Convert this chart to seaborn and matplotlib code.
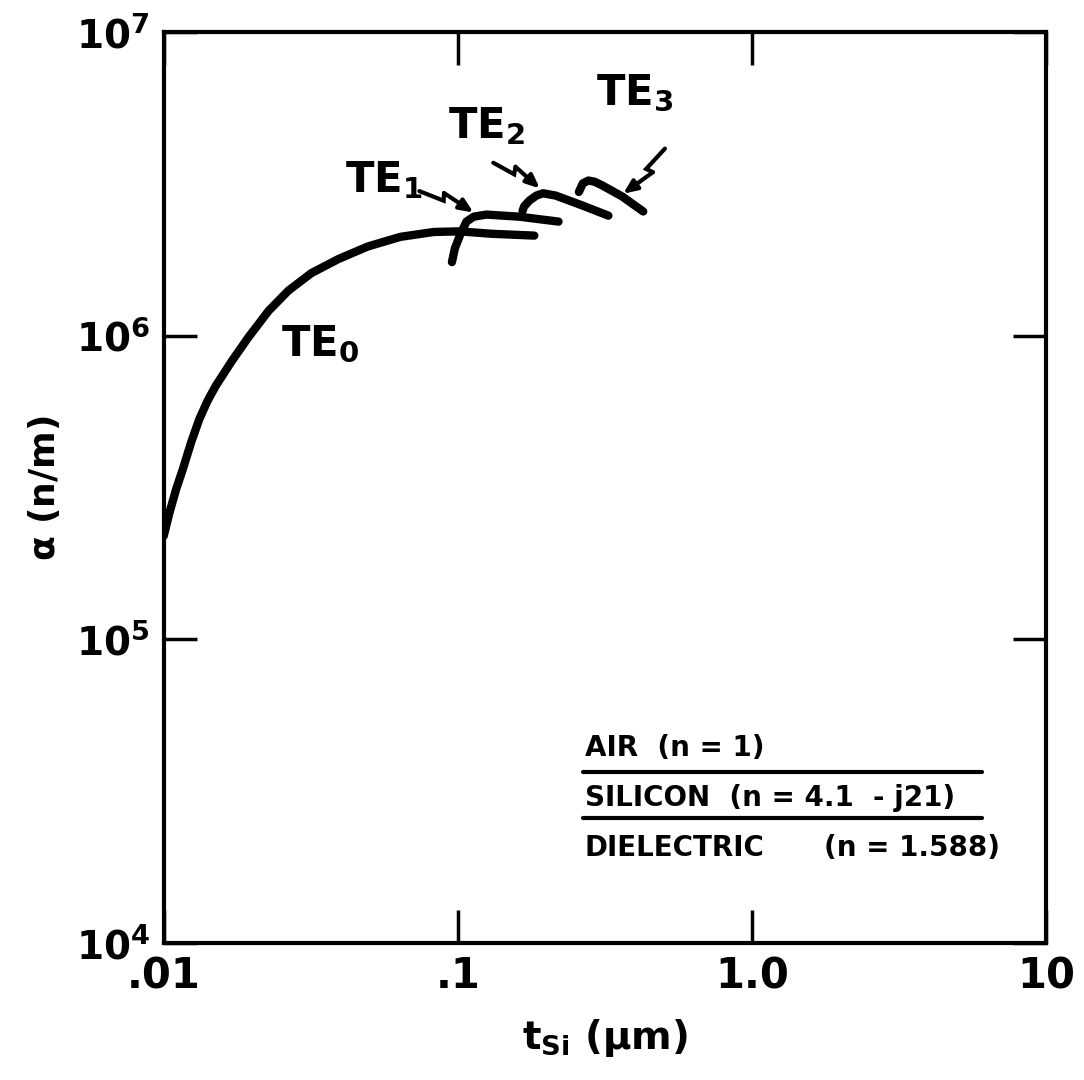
import matplotlib
matplotlib.use("Agg")
import matplotlib.pyplot as plt
from matplotlib.lines import Line2D
import numpy as np
import pandas as pd
import seaborn as sns

# curves: t_Si in um, alpha in n/m
te0_t = [0.0100, 0.01047, 0.01103, 0.01162, 0.0124, 0.01322, 0.0141, 0.01504, 0.01706,
         0.01948, 0.02275, 0.02655, 0.03177, 0.0392, 0.0494, 0.0638, 0.0829, 0.1016,
         0.130, 0.182]
te0_a = [2.19e5, 2.62e5, 3.13e5, 3.64e5, 4.46e5, 5.32e5, 6.11e5, 6.85e5, 8.27e5,
         9.94e5, 1.21e6, 1.41e6, 1.61e6, 1.79e6, 1.97e6, 2.12e6, 2.20e6, 2.21e6,
         2.17e6, 2.14e6]
te1_t = [0.0955, 0.0977, 0.1016, 0.107, 0.1132, 0.125, 0.162, 0.220]
te1_a = [1.75e6, 1.94e6, 2.14e6, 2.38e6, 2.47e6, 2.51e6, 2.47e6, 2.38e6]
te2_t = [0.166, 0.168, 0.175, 0.185, 0.195, 0.215, 0.265, 0.325]
te2_a = [2.58e6, 2.67e6, 2.79e6, 2.90e6, 2.95e6, 2.90e6, 2.69e6, 2.49e6]
te3_t = [0.258, 0.266, 0.278, 0.292, 0.310, 0.362, 0.427]
te3_a = [2.98e6, 3.18e6, 3.25e6, 3.22e6, 3.13e6, 2.88e6, 2.57e6]

x_ticks = [0.01, 0.1, 1.0, 10]
x_labels = [".01", ".1", "1.0", "10"]
y_ticks = [1e4, 1e5, 1e6, 1e7]
y_labels = ["$10^4$", "$10^5$", "$10^6$", "$10^7$"]

layers = ["AIR  (n = 1)", "SILICON  (n = 4.1  - j21)", "DIELECTRIC"]

sns.set_style("ticks")
plt.rcParams["font.family"] = ["DejaVu Sans"]
plt.rcParams["font.weight"] = "bold"
plt.rcParams["mathtext.fontset"] = "dejavusans"
plt.rcParams["mathtext.default"] = "bf"
plt.rcParams["text.color"] = "black"
plt.rcParams["axes.labelcolor"] = "black"

fig = plt.figure(figsize=(10.84, 10.8), dpi=100)
ax = fig.add_axes([0.151, 0.127, 0.814, 0.843])

for t, a in [(te0_t, te0_a), (te1_t, te1_a), (te2_t, te2_a), (te3_t, te3_a)]:
    df = pd.DataFrame({"t": t, "a": a})
    sns.lineplot(data=df, x="t", y="a", ax=ax, color="black", lw=6,
                 sort=False, estimator=None, solid_capstyle="round",
                 solid_joinstyle="round")

ax.set_xscale("log")
ax.set_yscale("log")
ax.set_xlim(0.01, 10)
ax.set_ylim(1e4, 1e7)
ax.set_xticks(x_ticks)
ax.set_xticklabels(x_labels)
ax.set_yticks(y_ticks)
ax.set_yticklabels(y_labels)
ax.minorticks_off()
ax.tick_params(direction="in", length=24, width=2.5, top=True, right=True,
               labelsize=30, colors="black")
ax.tick_params(axis="x", pad=9)
ax.tick_params(axis="y", pad=10, labelsize=28)
for s in ax.spines.values():
    s.set_linewidth(3)
    s.set_color("black")

ax.set_xlabel("t$_{Si}$ ($\\mu$m)", fontsize=28, fontweight="bold", labelpad=14)
ax.set_ylabel("$\\alpha$ (n/m)", fontsize=26, fontweight="bold", labelpad=10)

# mode labels
ax.text(0.034, 9.4e5, "TE$_0$", fontsize=30, ha="center", va="center")
ax.text(0.056, 3.25e6, "TE$_1$", fontsize=30, ha="center", va="center")
ax.text(0.125, 4.9e6, "TE$_2$", fontsize=30, ha="center", va="center")
ax.text(0.40, 6.3e6, "TE$_3$", fontsize=30, ha="center", va="center")


def zigzag(start, tip):
    # lightning style pointer: a stroke, a short sideways jog, then the arrow
    p0 = np.log10(start)
    p1 = np.log10(tip)
    d = p1 - p0
    u = d / np.hypot(*d)
    n = np.array([-u[1], u[0]])
    a = p0 + 0.45 * d
    b = a + 0.024 * n - 0.008 * u
    pts = 10 ** np.array([p0, a, b])
    ax.plot(pts[:, 0], pts[:, 1], color="black", lw=3, solid_joinstyle="miter")
    ax.annotate("", xy=tip, xytext=tuple(pts[-1]),
                arrowprops=dict(arrowstyle="-|>,head_length=0.8,head_width=0.35",
                                color="black", lw=3, shrinkA=0, shrinkB=0))


zigzag((0.074, 3.0e6), (0.113, 2.55e6))
zigzag((0.132, 3.72e6), (0.19, 3.06e6))
zigzag((0.506, 4.14e6), (0.365, 2.94e6))

# layer stack legend
ax.text(0.477, 0.205, layers[0], transform=ax.transAxes, fontsize=20)
ax.text(0.477, 0.150, layers[1], transform=ax.transAxes, fontsize=20)
ax.text(0.477, 0.095, layers[2], transform=ax.transAxes, fontsize=20)
ax.text(0.748, 0.095, "(n = 1.588)", transform=ax.transAxes, fontsize=20)
for yy in [0.188, 0.137]:
    ax.add_line(Line2D([0.475, 0.927], [yy, yy], transform=ax.transAxes,
                       color="black", lw=3))

fig.savefig("out.png", dpi=100, facecolor="white")
